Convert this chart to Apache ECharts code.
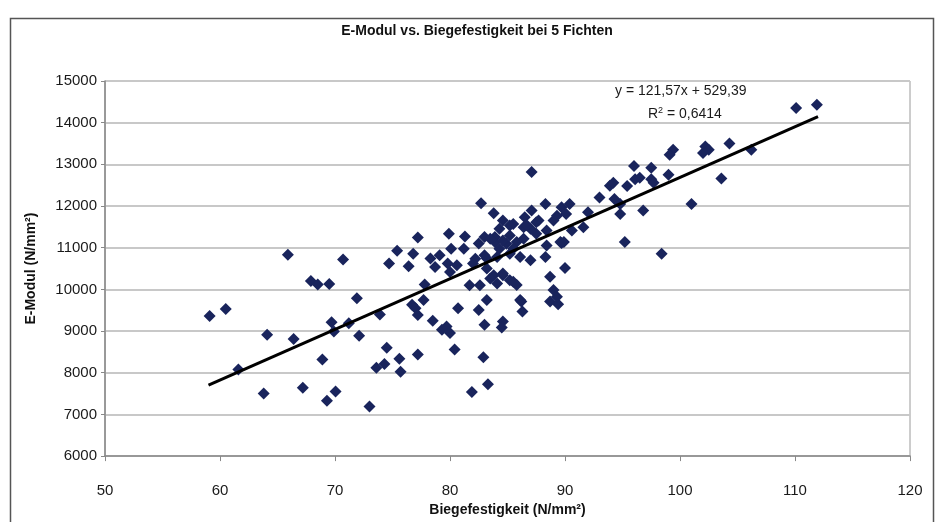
<!DOCTYPE html>
<html><head><meta charset="utf-8">
<script src="https://cdn.jsdelivr.net/npm/echarts@6/dist/echarts.min.js"></script>
<style>html,body{margin:0;padding:0;background:#fff}#c{width:936px;height:522px}</style>
</head><body><div id="c"></div>
<script>
const titleText = 'E-Modul vs. Biegefestigkeit bei 5 Fichten';
const xName = 'Biegefestigkeit (N/mm²)';
const yName = 'E-Modul (N/mm²)';
const eqText = 'y = 121,57x + 529,39';
const r2Text = 'R{sup|2} = 0,6414';
const xTicks = [50, 60, 70, 80, 90, 100, 110, 120];
const yTicks = [6000, 7000, 8000, 9000, 10000, 11000, 12000, 13000, 14000, 15000];

const bieg = [
 59.1,60.5,61.6,63.8,64.1,65.9,66.4,67.2,67.9,68.5,69.5,68.9,69.3,69.7,69.9,70.05,70.7,71.2,71.9,72.1,73.0,73.6,74.3,73.9,74.7,74.5,
 82.7,83.8,77.2,79.9,81.3,75.4,76.8,76.4,78.3,79.1,80.1,81.2,79.8,80.6,80.0,78.7,77.8,81.7,82.6,83.2,83.0,82.5,83.9,83.2,80.7,83.2,76.7,77.7,
 75.6,75.7,77.2,80.4,82.9,81.9,83.3,77.0,77.2,78.5,79.3,79.7,80.0,82.5,83.0,84.6,84.5,86.2,86.3,88.7,89.4,
 87.1,88.3,89.7,90.4,89.3,90.1,92.0,93.0,93.9,87.1,84.6,85.5,86.4,87.0,87.7,84.3,85.2,83.9,84.9,85.8,84.3,88.4,90.6,91.6,89.7,84.1,85.2,86.1,85.5,87.0,88.3,90.0,83.8,84.6,85.2,85.8,88.7,89.0,89.3,86.1,
 89.0,86.5,85.2,86.7,87.5,83.5,84.6,86.4,87.5,89.6,88.4,82.2,83.0,82.0,84.6,85.5,84.1,83.5,
 99.4,99.1,102.2,102.0,102.5,104.3,106.2,96.0,97.5,97.5,94.2,95.4,96.1,96.5,99.0,97.7,103.6,94.3,94.8,94.8,96.8,101.0,95.2,98.4,
 110.1,111.9,89.9
];
const emod = [
 9360,9530,8080,7500,8910,10830,8810,7640,10200,10120,10130,8320,7330,9210,8990,7550,10720,9190,9790,8890,7190,8120,8210,9400,10620,8600,
 12064,11826,11245,11333,11270,10930,10857,10555,10740,10817,10976,10976,10620,10580,10420,10540,10120,10100,10100,10740,11255,11100,11136,10500,9550,9745,9630,9745,
 8333,8024,8436,8555,8374,7540,7722,9548,9388,9245,9031,9111,8952,9508,9150,9230,9088,9707,9469,9707,9643,
 12817,12050,11968,12047,11769,11810,11850,12207,12484,11890,11650,11571,11492,11452,11650,11452,11293,11255,11095,11135,10976,11412,11412,11492,11112,10778,10857,10778,10976,10698,10778,10516,10340,10340,10222,10103,10302,9984,9826,9745,
 11650,11730,11531,11531,11610,11214,11174,11214,11333,11135,11055,10738,10817,10619,10381,10183,10143,10262,
 13350,13230,13430,13270,13350,13500,13350,12960,12920,12640,12560,12480,12640,12680,12750,12560,12660,12167,12048,11810,11890,12048,11135,10857,
 14350,14430,11135
];
const trendX = [59, 112];
const trendY = [7702, 14145];

const pts = bieg.map((x, i) => [x, emod[i]]);
const trend = trendX.map((x, i) => [x, trendY[i]]);

const chart = echarts.init(document.getElementById('c'), null, {renderer: 'canvas'});
const font = '"Liberation Sans", Arial, sans-serif';
chart.setOption({
  backgroundColor: '#ffffff',
  animation: false,
  title: {
    text: titleText, left: 472, top: 19, textAlign: 'center',
    textStyle: {fontFamily: font, fontSize: 14, fontWeight: 'bold', color: '#111'}
  },
  grid: {left: 105, right: 26, top: 81, bottom: 60, show: true, borderColor: '#9a9a9a', borderWidth: 1, backgroundColor: '#fff'},
  xAxis: {
    type: 'value', min: xTicks[0], max: xTicks[xTicks.length - 1], interval: 10,
    name: xName, nameLocation: 'middle', nameGap: 44,
    nameTextStyle: {fontFamily: font, fontSize: 14, fontWeight: 'bold', color: '#111'},
    axisLine: {show: true, lineStyle: {color: '#888', width: 1.5}},
    axisTick: {show: true, length: 5, lineStyle: {color: '#888'}},
    axisLabel: {fontFamily: font, fontSize: 15, color: '#1a1a1a', margin: 27, formatter: v => String(v)},
    splitLine: {show: false}
  },
  yAxis: {
    type: 'value', min: yTicks[0], max: yTicks[yTicks.length - 1], interval: 1000,
    name: yName, nameLocation: 'middle', nameGap: 67, nameRotate: 90,
    nameTextStyle: {fontFamily: font, fontSize: 14, fontWeight: 'bold', color: '#111'},
    axisLine: {show: true, lineStyle: {color: '#888', width: 1.5}},
    axisTick: {show: true, length: 4, lineStyle: {color: '#888'}},
    axisLabel: {fontFamily: font, fontSize: 15, color: '#1a1a1a', margin: 8, formatter: v => String(v)},
    splitLine: {show: true, lineStyle: {color: '#c8c8c8', width: 2}}
  },
  series: [
    {
      type: 'scatter', data: pts, symbol: 'diamond', symbolSize: 12,
      itemStyle: {color: '#19245c', opacity: 1}, z: 3
    },
    {
      type: 'line', data: trend, symbol: 'none', z: 4,
      lineStyle: {color: '#000', width: 3}
    }
  ],
  graphic: [
    {type: 'rect', shape: {x: 10.5, y: 18.5, width: 923, height: 520}, style: {fill: 'none', stroke: '#555', lineWidth: 1.5}, z: 100},
    {type: 'text', left: 615, top: 84, style: {text: eqText, font: '14px "Liberation Sans", Arial, sans-serif', fill: '#1a1a1a'}, z: 100},
    {type: 'text', left: 648, top: 106, style: {text: r2Text, font: '14px "Liberation Sans", Arial, sans-serif', fill: '#1a1a1a', rich: {sup: {fontSize: 9, verticalAlign: 'top', padding: [0,0,8,0], fill: '#1a1a1a', fontFamily: '"Liberation Sans", Arial, sans-serif'}}}, z: 100}
  ]
});
</script>
</body></html>
